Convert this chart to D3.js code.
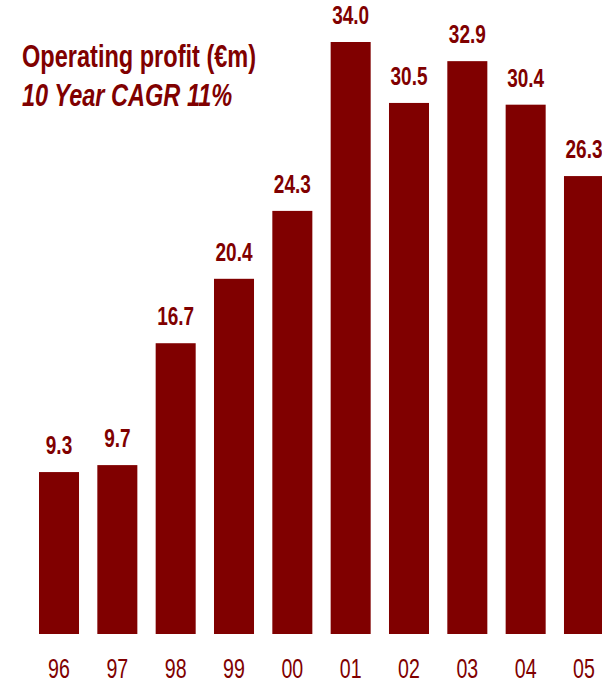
<!DOCTYPE html>
<html>
<head>
<meta charset="utf-8">
<script src="https://cdn.jsdelivr.net/npm/d3@7/dist/d3.min.js"></script>
<style>
  html, body { margin: 0; padding: 0; background: #fff; }
  svg { display: block; }
  text { font-family: "Liberation Sans", Arial, sans-serif; fill: #800000; }
</style>
</head>
<body>
<svg id="chart" width="602" height="683"></svg>
<script>
// Operating profit by year (€m)
const years = ["96", "97", "98", "99", "00", "01", "02", "03", "04", "05"];
const profit = [9.3, 9.7, 16.7, 20.4, 24.3, 34.0, 30.5, 32.9, 30.4, 26.3];
const titleLines = ["Operating profit (€m)", "10 Year CAGR 11%"];

const barColor = "#800000";
const svg = d3.select("#chart");

// condensed look: horizontally squeezed sans
const narrow = 0.76;

const baseY = 634;
const x = d3.scaleBand()
  .domain(years)
  .range([39, 604])
  .paddingInner(0.314)
  .paddingOuter(0);

const y = d3.scaleLinear()
  .domain([0, 34])
  .range([baseY, 42]);

const data = years.map((yr, i) => ({ yr, v: profit[i] }));

// bars
svg.append("g")
  .selectAll("rect")
  .data(data)
  .join("rect")
  .attr("x", d => x(d.yr))
  .attr("y", d => y(d.v))
  .attr("width", x.bandwidth())
  .attr("height", d => y(0) - y(d.v))
  .attr("fill", barColor);

// value labels above bars
svg.append("g")
  .selectAll("text")
  .data(data)
  .join("text")
  .attr("transform", d => `translate(${x(d.yr) + x.bandwidth() / 2},${y(d.v) - 18}) scale(${narrow},1)`)
  .attr("text-anchor", "middle")
  .style("font-size", "25px")
  .style("font-weight", "bold")
  .text(d => d.v.toFixed(1));

// year axis
const xAxis = svg.append("g")
  .attr("transform", `translate(0,${baseY})`)
  .call(d3.axisBottom(x).tickSize(0).tickPadding(0));
xAxis.select(".domain").remove();
xAxis.selectAll("text")
  .attr("y", 0)
  .attr("dy", 0)
  .attr("transform", `translate(0,44) scale(0.7,1)`)
  .style("font-size", "28px")
  .style("font-family", "\"Liberation Sans\", Arial, sans-serif")
  .attr("fill", barColor);

// title block
svg.append("text")
  .attr("transform", `translate(22,67) scale(${narrow},1)`)
  .style("font-size", "31px")
  .style("font-weight", "bold")
  .text(titleLines[0]);

svg.append("text")
  .attr("transform", `translate(22,106) scale(${narrow},1)`)
  .style("font-size", "31px")
  .style("font-weight", "bold")
  .style("font-style", "italic")
  .text(titleLines[1]);
</script>
</body>
</html>
